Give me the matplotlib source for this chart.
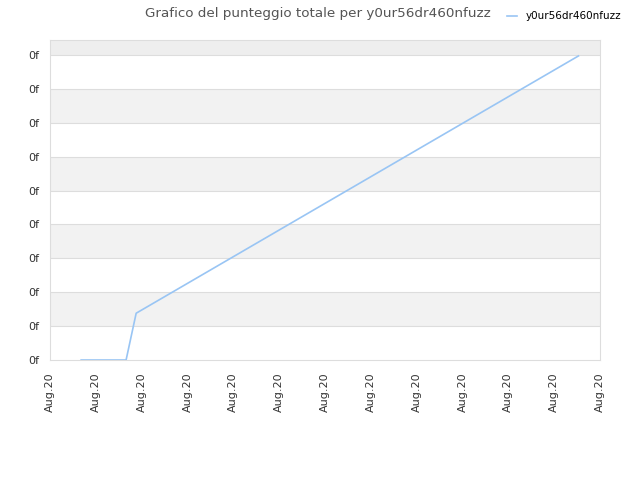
import numpy as np
import matplotlib.pyplot as plt

# data (x in tick units, y in tick units)
days = [0.68, 1.66, 1.88, 11.53]
score = [0.0, 0.0, 1.38, 8.97]
player = 'y0ur56dr460nfuzz'
x_labels = ['Aug.20'] * 13
y_labels = ['0f'] * 10

fig = plt.figure(figsize=(6.4, 4.8), dpi=100)
ax = fig.add_axes([50/640, 1-360/480, 550/640, 320/480])

top = 9.44
# alternating bands
for k in range(1, 9, 2):
    ax.axhspan(k, k+1, color='#f2f2f2', zorder=0, lw=0)
ax.axhspan(9, top, color='#eeeeee', zorder=0, lw=0)
for k in range(1, 10):
    ax.axhline(k, color='#dddddd', lw=0.8, zorder=1)

ax.plot(days, score, color='#99c5f4', lw=1.2, label=player, zorder=3)

ax.set_xlim(0, 12)
ax.set_ylim(0, top)
ax.set_xticks(range(13))
ax.set_xticklabels(x_labels, rotation=90, fontsize=8, color='#333333')
ax.set_yticks(range(10))
ax.set_yticklabels(y_labels, fontsize=8, color='#333333')
ax.tick_params(axis='y', length=0, pad=8)
ax.tick_params(axis='x', length=0, pad=9)
for s in ax.spines.values():
    s.set_color('#dddddd')

fig.text(0.497, 0.986, 'Grafico del punteggio totale per ' + player,
         ha='center', va='top', fontsize=9.7, color='#555555')
leg = fig.legend(loc='upper right', bbox_to_anchor=(0.985, 0.996), frameon=False,
                 fontsize=7.5, handlelength=1.0)

fig.savefig('out.png', dpi=100)
